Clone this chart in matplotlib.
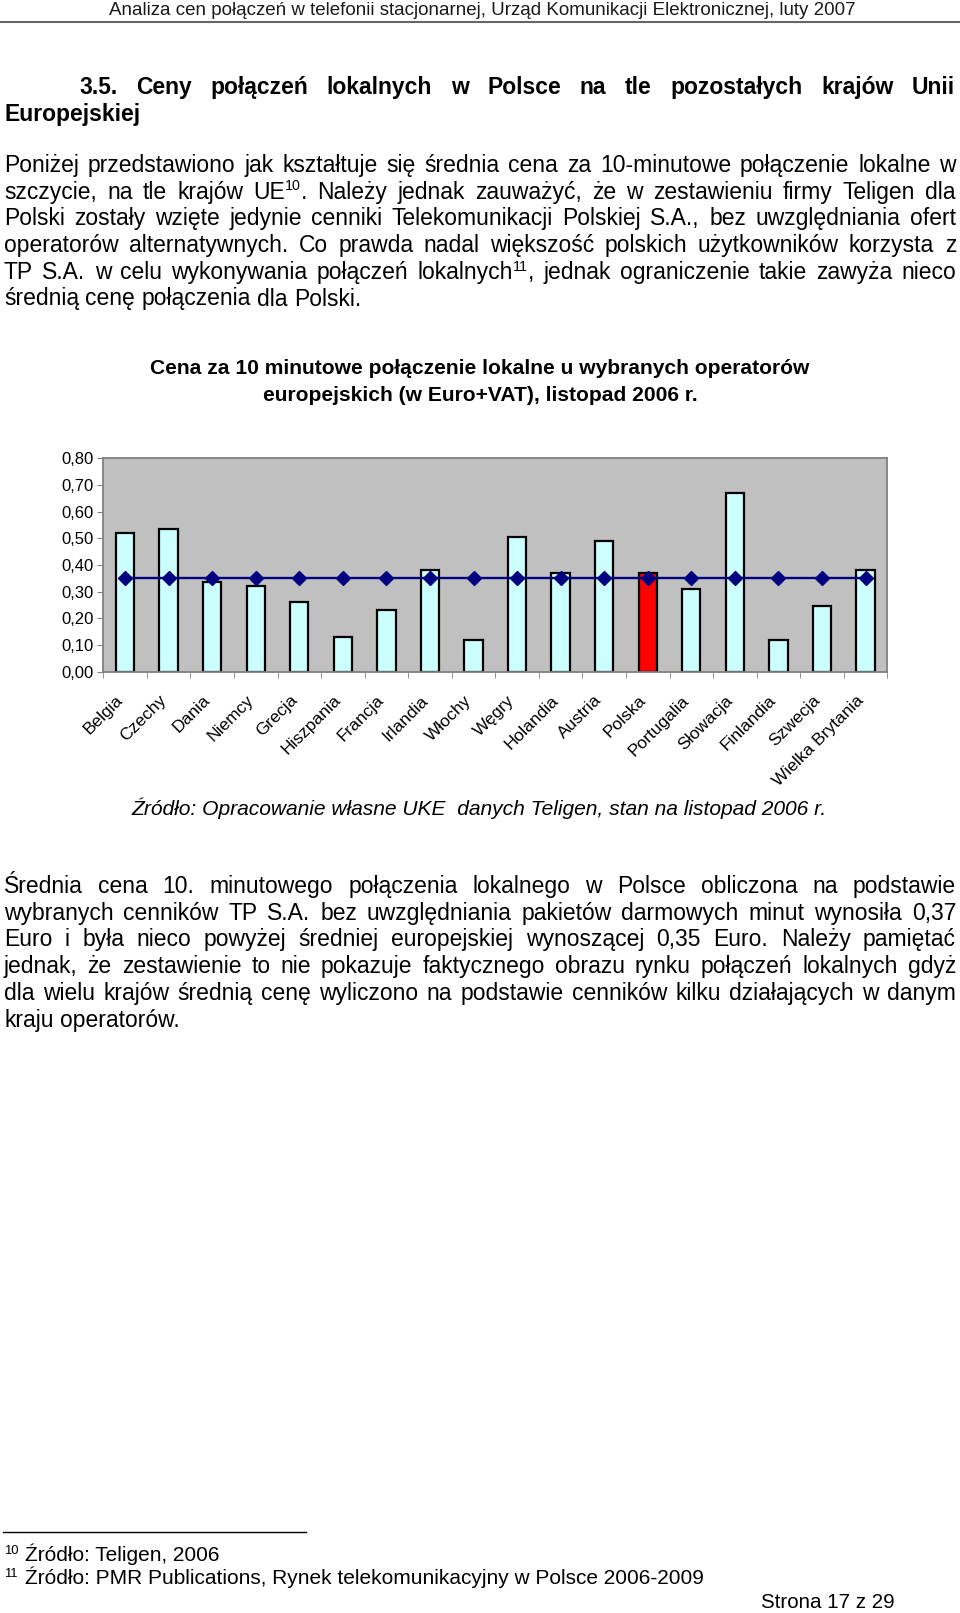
import matplotlib
matplotlib.use("Agg")
import matplotlib.pyplot as plt
from matplotlib.lines import Line2D
from matplotlib.transforms import ScaledTranslation
import numpy as np

# ---- Datos del grafico ----
kraje = ["Belgia", "Czechy", "Dania", "Niemcy", "Grecja", "Hiszpania", "Francja",
         "Irlandia", "Włochy", "Węgry", "Holandia", "Austria", "Polska",
         "Portugalia", "Słowacja", "Finlandia", "Szwecja", "Wielka Brytania"]
ceny = [0.52, 0.535, 0.335, 0.32, 0.26, 0.13, 0.23, 0.38, 0.12, 0.505,
        0.37, 0.49, 0.37, 0.31, 0.67, 0.12, 0.245, 0.38]
srednia = [0.35, 0.35, 0.35, 0.35, 0.35, 0.35, 0.35, 0.35, 0.35,
           0.35, 0.35, 0.35, 0.35, 0.35, 0.35, 0.35, 0.35, 0.35]
y_ticks = [0.0, 0.1, 0.2, 0.3, 0.4, 0.5, 0.6, 0.7, 0.8]
y_labels = ["0,00", "0,10", "0,20", "0,30", "0,40", "0,50", "0,60", "0,70", "0,80"]

# ---- Textos de la pagina ----
naglowek = "Analiza cen połączeń w telefonii stacjonarnej, Urząd Komunikacji Elektronicznej, luty 2007"
tytul_rozdzialu = ["3.5. Ceny połączeń lokalnych w Polsce na tle pozostałych krajów Unii",
                   "Europejskiej"]
# "^" oznacza indeks gorny przypisu
akapit1 = [
    "Poniżej przedstawiono jak kształtuje się średnia cena za 10-minutowe połączenie lokalne w",
    "szczycie, na tle krajów UE^10^. Należy jednak zauważyć, że w zestawieniu firmy Teligen dla",
    "Polski zostały wzięte jedynie cenniki Telekomunikacji Polskiej S.A., bez uwzględniania ofert",
    "operatorów alternatywnych. Co prawda nadal większość polskich użytkowników korzysta z",
    "TP S.A. w celu wykonywania połączeń lokalnych^11^, jednak ograniczenie takie zawyża nieco",
    "średnią cenę połączenia dla Polski.",
]
tytul_wykresu = ["Cena za 10 minutowe połączenie lokalne u wybranych operatorów",
                 "europejskich (w Euro+VAT), listopad 2006 r."]
zrodlo = "Źródło: Opracowanie własne UKE  danych Teligen, stan na listopad 2006 r."
akapit2 = [
    "Średnia cena 10. minutowego połączenia lokalnego w Polsce obliczona na podstawie",
    "wybranych cenników TP S.A. bez uwzględniania pakietów darmowych minut wynosiła 0,37",
    "Euro i była nieco powyżej średniej europejskiej wynoszącej 0,35 Euro. Należy pamiętać",
    "jednak, że zestawienie to nie pokazuje faktycznego obrazu rynku połączeń lokalnych gdyż",
    "dla wielu krajów średnią cenę wyliczono na podstawie cenników kilku działających w danym",
    "kraju operatorów.",
]
przypisy = [("10", "Źródło: Teligen, 2006"),
            ("11", "Źródło: PMR Publications, Rynek telekomunikacyjny w Polsce 2006-2009")]
stopka = "Strona 17 z 29"

plt.rcParams["font.family"] = ["Liberation Sans", "DejaVu Sans"]

W, H = 960, 1613
fig = plt.figure(figsize=(W / 100, H / 100), dpi=100)
renderer = fig.canvas.get_renderer()


def put(x, y, s, **kw):
    # x, y w pikselach od lewego gornego rogu, y = linia bazowa
    return fig.text(x / W, 1 - y / H, s, va="baseline", **kw)


def szer(t):
    return t.get_window_extent(renderer).width


def dopasuj(s, cel, **kw):
    t = put(0, 0, s, fontsize=10, **kw)
    w = szer(t)
    t.remove()
    return 10 * cel / w


def slowo(y, s, rozmiar, waga):
    # zwraca liste (tekst, przesuniecie x) i laczna szerokosc slowa
    czesci = s.split("^")
    elem = []
    x = 0
    for i, c in enumerate(czesci):
        if not c:
            continue
        if i % 2 == 1:
            t = put(0, y - rozmiar * 0.5, c, fontsize=rozmiar * 0.62, fontweight=waga)
        else:
            t = put(0, y, c, fontsize=rozmiar, fontweight=waga)
        elem.append((t, x))
        x += szer(t)
    return elem, x


def wyjustuj(linie, x0, x1, y0, krok, rozmiar, waga="normal", wciecie=0):
    spacja = 0.278 * rozmiar * 100 / 72
    for k, linia in enumerate(linie):
        y = y0 + k * krok
        slowa = [slowo(y, s, rozmiar, waga) for s in linia.split(" ")]
        ws = [w for _, w in slowa]
        lewo = x0 + (wciecie if k == 0 else 0)
        if k == len(linie) - 1 or len(slowa) == 1:
            odstep = spacja
        else:
            odstep = (x1 - lewo - sum(ws)) / (len(slowa) - 1)
        x = lewo
        for elem, w in slowa:
            for t, dx in elem:
                t.set_x((x + dx) / W)
            x += w + odstep


# naglowek
put(856, 15, naglowek, fontsize=dopasuj(naglowek, 752), ha="right", color="#1a1a1a")
fig.add_artist(Line2D([0, 1], [1 - 22 / H, 1 - 22 / H], color="#666666", lw=1.5))

# tytul rozdzialu i akapity
wyjustuj(tytul_rozdzialu, 4, 955, 94, 26.7, 16.5, waga="bold", wciecie=75)
wyjustuj(akapit1, 4, 956, 172, 26.7, 16.5)

r_tyt = dopasuj(tytul_wykresu[0], 656, fontweight="bold")
put(480, 374, tytul_wykresu[0], fontsize=r_tyt, fontweight="bold", ha="center")
put(480, 401, tytul_wykresu[1], fontsize=r_tyt, fontweight="bold", ha="center")

# ---- Wykres ----
ax = fig.add_axes([103.3 / W, 1 - 671.7 / H, 784 / W, 213.4 / H])
ax.set_facecolor("#C0C0C0")
x = np.arange(len(kraje))
kolory = ["#FF0000" if k == "Polska" else "#CCFFFF" for k in kraje]
ax.bar(x, ceny, width=0.42, color=kolory, edgecolor="black", linewidth=1.6, zorder=2)
ax.plot(x, srednia, color="#000080", lw=1.7, marker="D", markersize=7, zorder=3)
ax.set_xlim(-0.5, len(kraje) - 0.5)
ax.set_ylim(0, 0.8)
ax.set_yticks(y_ticks)
ax.set_yticklabels(y_labels, fontsize=12)
ax.set_xticks(x)
ax.set_xticklabels(kraje, rotation=45, ha="right", rotation_mode="anchor", fontsize=12.5)
ax.set_xticks(np.arange(-0.5, len(kraje)), minor=True)
ax.tick_params(axis="x", which="major", length=0, pad=15)
ax.tick_params(axis="x", which="minor", length=4, color="#808080")
ax.tick_params(axis="y", length=4, color="#808080", pad=3)
for lbl in ax.get_xticklabels():
    lbl.set_transform(lbl.get_transform() + ScaledTranslation(-0.1, 0, fig.dpi_scale_trans))
for sp in ax.spines.values():
    sp.set_color("#808080")
    sp.set_linewidth(1.3)

r_zr = dopasuj(zrodlo, 698, fontstyle="italic")
put(131, 815, zrodlo, fontsize=r_zr, fontstyle="italic")

wyjustuj(akapit2, 4, 956, 893, 26.7, 16.5)

# przypisy
fig.add_artist(Line2D([3 / W, 306 / W], [1 - 1531.7 / H, 1 - 1531.7 / H], color="black", lw=1))
r_p = dopasuj(przypisy[1][1], 681)
for i, (nr, tekst) in enumerate(przypisy):
    yb = 1561 + i * 23
    put(4, yb - 7, nr, fontsize=r_p * 0.62)
    put(25, yb, tekst, fontsize=r_p)
put(895, 1608, stopka, fontsize=dopasuj(stopka, 134), ha="right")

fig.savefig("out.png", dpi=100, facecolor="white")
